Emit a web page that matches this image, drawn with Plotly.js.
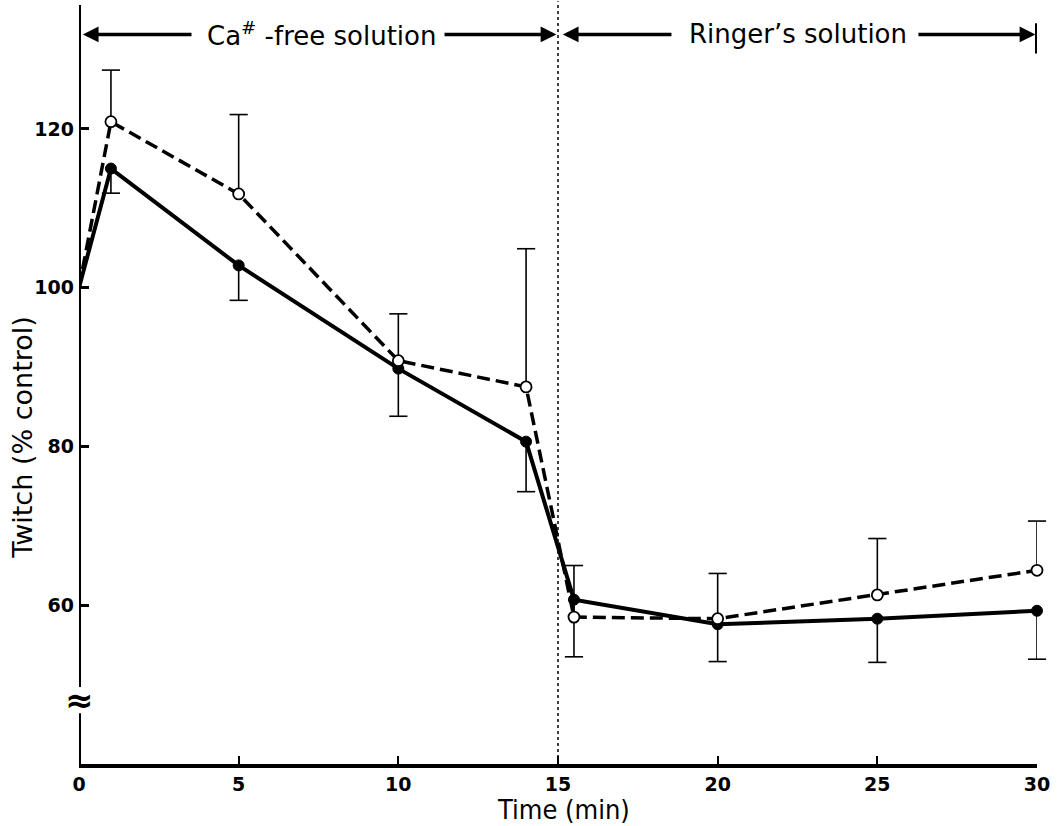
<!DOCTYPE html>
<html>
<head>
<meta charset="utf-8">
<script src="https://cdn.plot.ly/plotly-3.0.1.min.js"></script>
<style>html,body{margin:0;padding:0;background:#fff;}</style>
</head>
<body>
<div id="chart" style="width:1058px;height:826px;"></div>
<script>
// ---- data ----
const time = [0, 1, 5, 10, 14, 15.5, 20, 25, 30];
const openValues = [100, 120.9, 111.8, 90.8, 87.5, 58.5, 58.3, 61.3, 64.4];
const openErrUp = [0, 6.5, 10.0, 5.9, 17.4, 6.5, 5.7, 7.1, 6.2];
const filledValues = [100, 115.0, 102.8, 89.8, 80.6, 60.7, 57.6, 58.3, 59.3];
const filledErrDown = [0, 3.1, 4.4, 6.0, 6.3, 7.2, 4.7, 5.5, 6.1];
const xTicks = [0, 5, 10, 15, 20, 25, 30];
const yTicks = [60, 80, 100, 120];
const phaseLabels = ["Ca<sup>#</sup> -free solution", "Ringer\u2019s solution"];
const xTitle = "Time (min)";
const yTitle = "Twitch (% control)";

const zeros = time.map(() => 0);
const markerSizes = time.map(t => (t === 0 ? 0 : 11));

function capTrace(vals, errs, sign) {
  const xs = [], ys = [];
  vals.forEach((v, i) => { if (errs[i] > 0) { xs.push(time[i]); ys.push(v + sign * errs[i]); } });
  return {
    x: xs, y: ys, mode: 'markers', type: 'scatter', hoverinfo: 'skip', showlegend: false,
    marker: {symbol: 'line-ew', size: 13, color: 'black', line: {width: 1.6, color: 'black'}},
    cliponaxis: false
  };
}

const traces = [
  {
    x: time, y: filledValues, type: 'scatter', mode: 'lines+markers', showlegend: false,
    line: {color: 'black', width: 4},
    marker: {symbol: 'circle', size: markerSizes, color: 'black', opacity: 1, line: {width: 1, color: 'black'}},
    error_y: {type: 'data', symmetric: false, array: zeros, arrayminus: filledErrDown, width: 0, thickness: 1.6, color: 'black'},
    cliponaxis: false
  },
  capTrace(filledValues, filledErrDown, -1),
  {
    x: time, y: openValues, type: 'scatter', mode: 'lines+markers', showlegend: false,
    line: {color: 'black', width: 3.5, dash: '13px,6px'},
    marker: {symbol: 'circle', size: markerSizes, color: 'white', opacity: 1, line: {width: 1.8, color: 'black'}},
    error_y: {type: 'data', symmetric: false, array: openErrUp, arrayminus: zeros, width: 0, thickness: 1.6, color: 'black'},
    cliponaxis: false
  },
  capTrace(openValues, openErrUp, 1)
];

const arrowY = 131.9;
function arrow(xHead, xTail) {
  return {x: xHead, y: arrowY, ax: xTail, ay: arrowY, xref: 'x', yref: 'y', axref: 'x', ayref: 'y',
          text: '', showarrow: true, arrowhead: 2, arrowsize: 0.9, arrowwidth: 3.5, arrowcolor: 'black', standoff: 0, startstandoff: 0};
}

const layout = {
  width: 1058, height: 826,
  margin: {l: 79, r: 21, t: 5, b: 62},
  paper_bgcolor: 'white', plot_bgcolor: 'white',
  showlegend: false,
  xaxis: {
    range: [0, 30], tickvals: xTicks, ticktext: xTicks.map(String),
    ticks: 'inside', ticklen: 8, tickwidth: 2, tickcolor: 'black',
    showline: true, linewidth: 4, linecolor: 'black',
    showgrid: false, zeroline: false, ticklabelstandoff: 0,
    tickfont: {family: 'DejaVu Sans', size: 19, weight: 'bold', color: 'black'}
  },
  yaxis: {
    range: [40, 135.6], tickvals: yTicks, ticktext: yTicks.map(String),
    ticks: 'inside', ticklen: 10, tickwidth: 3, tickcolor: 'black',
    showline: false, showgrid: false, zeroline: false, ticklabelstandoff: 4,
    tickfont: {family: 'DejaVu Sans', size: 19, weight: 'bold', color: 'black'}
  },
  shapes: [
    {type: 'line', xref: 'x', yref: 'y', x0: 0, x1: 0, y0: 39.7, y1: 46.4, line: {color: 'black', width: 4}},
    {type: 'line', xref: 'x', yref: 'y', x0: 0, x1: 0, y0: 49.7, y1: 135.6, line: {color: 'black', width: 4}},
    {type: 'line', xref: 'x', yref: 'paper', x0: 15, x1: 15, y0: 0, y1: 1.005, line: {color: 'black', width: 1.5, dash: 'dot'}},
    {type: 'line', xref: 'x', yref: 'y', x0: 30, x1: 30, y0: 129.5, y1: 133.3, line: {color: 'black', width: 4}}
  ],
  annotations: [
    arrow(0.12, 3.57), arrow(14.95, 11.4), arrow(15.15, 18.6), arrow(29.95, 26.24),
    {x: 7.58, y: arrowY, xref: 'x', yref: 'y', text: phaseLabels[0], showarrow: false,
     font: {family: 'DejaVu Sans', size: 26, color: 'black'}, xanchor: 'center', yanchor: 'middle'},
    {x: 22.52, y: arrowY, xref: 'x', yref: 'y', text: phaseLabels[1], showarrow: false,
     font: {family: 'DejaVu Sans', size: 26, color: 'black'}, xanchor: 'center', yanchor: 'middle'},
    {x: 0, y: 48.05, xref: 'x', yref: 'y', text: '\u2248', showarrow: false,
     font: {family: 'DejaVu Sans', size: 34, weight: 'bold', color: 'black'}, xanchor: 'center', yanchor: 'middle'},
    {x: -0.0585, y: 0.431, xref: 'paper', yref: 'paper', text: yTitle, showarrow: false, textangle: -90,
     font: {family: 'DejaVu Sans', size: 27, color: 'black'}, xanchor: 'center', yanchor: 'middle'},
    {x: 0.506, y: -0.06, xref: 'paper', yref: 'paper', text: xTitle, showarrow: false,
     font: {family: 'DejaVu Sans Condensed', size: 27, color: 'black'}, xanchor: 'center', yanchor: 'middle'}
  ]
};

Plotly.newPlot('chart', traces, layout, {staticPlot: true, displayModeBar: false});
</script>
</body>
</html>
